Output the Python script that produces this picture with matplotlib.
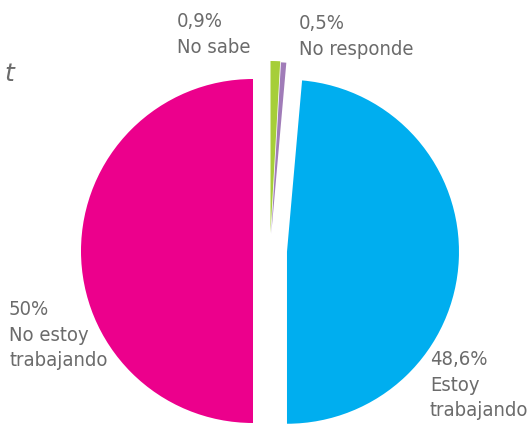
import matplotlib
matplotlib.use("Agg")
import matplotlib.pyplot as plt

# Survey answers, counter-clockwise from the top (pink half first)
labels = ["No estoy\ntrabajando", "Estoy\ntrabajando", "No responde", "No sabe"]
pct_text = ["50%", "48,6%", "0,5%", "0,9%"]
values = [50.0, 48.6, 0.5, 0.9]
colors = ["#EC008C", "#00AEEF", "#A07CB8", "#A6CE39"]
explode = [17, 17, 17, 18]   # offsets in pixels (data units)

W, H = 531, 436
fig = plt.figure(figsize=(W / 100, H / 100), dpi=100)
ax = fig.add_axes([0, 0, 1, 1])

ax.pie(values, colors=colors, explode=explode, startangle=90,
       counterclock=True, radius=172, center=(270, H - 251),
       wedgeprops=dict(linewidth=0), frame=True)
ax.set_xlim(0, W)
ax.set_ylim(0, H)
ax.set_aspect("equal")
ax.axis("off")

grey = "#6b6b6b"
txt = dict(family="DejaVu Sans", stretch="condensed", fontsize=14.5,
           color=grey, ha="left", va="top", linespacing=1.45)
# label anchors (pixel positions, top-left of the text block)
label_pos = {
    "No estoy\ntrabajando": (9, 300),
    "Estoy\ntrabajando": (430, 350),
    "No responde": (299, 14),
    "No sabe": (177, 12),
}
for lab, p in zip(labels, pct_text):
    x, y = label_pos[lab]
    ax.text(x, H - y, f"{p}\n{lab}", **txt)

ax.text(4, H - 62, "t", ha="left", va="top", fontsize=18, color=grey,
        style="italic", family="DejaVu Sans")

fig.savefig("out.png", dpi=100)
